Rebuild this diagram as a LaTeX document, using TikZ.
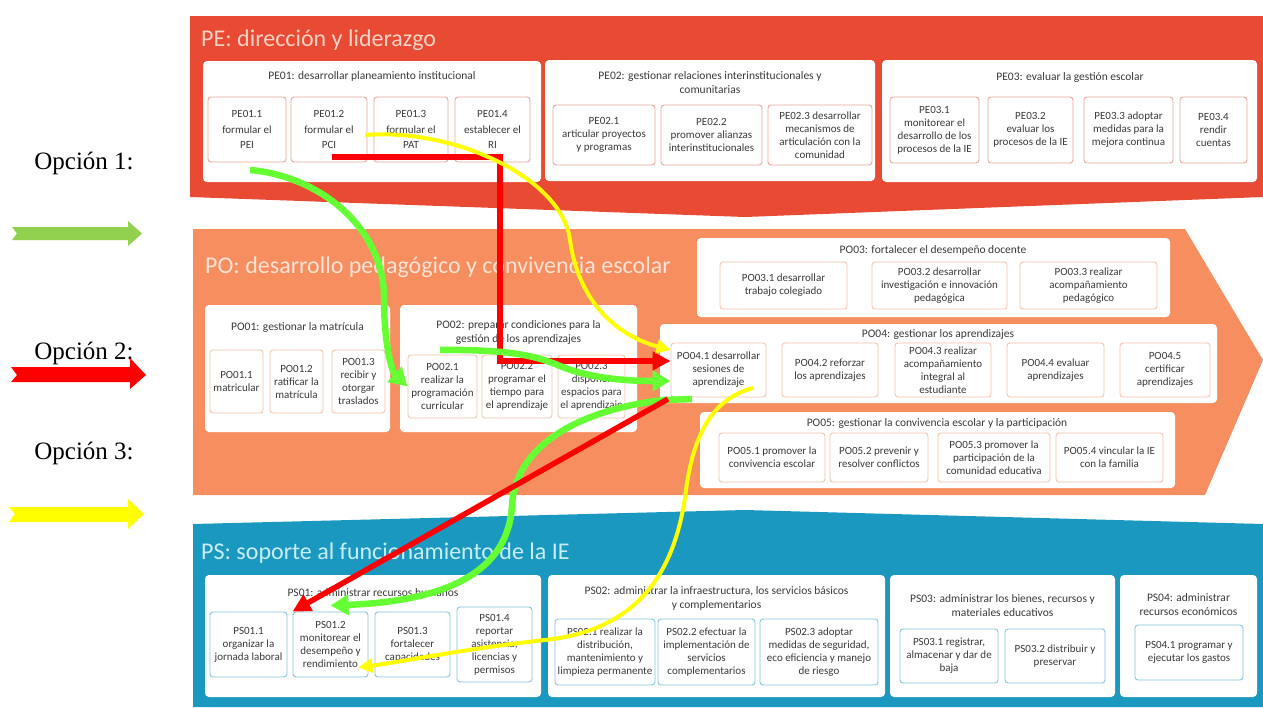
\documentclass[tikz,border=0pt]{standalone}
\usepackage{fontspec}
\setmainfont{Carlito}
\newfontfamily\legendfont{Liberation Serif}
\usetikzlibrary{arrows.meta,calc}
\definecolor{pered}{HTML}{E94A33}
\definecolor{poor}{HTML}{F68E5F}
\definecolor{psbl}{HTML}{1B98C0}
\definecolor{pehd}{HTML}{FBD3C6}
\definecolor{pohd}{HTML}{FDE3D5}
\definecolor{pshd}{HTML}{C8EDF8}
\definecolor{pesb}{HTML}{EBA79C}
\definecolor{posb}{HTML}{F5C2AA}
\definecolor{pssb}{HTML}{86C6DC}
\definecolor{txt}{HTML}{3A3A3A}
\definecolor{lgreen}{HTML}{92D050}
\definecolor{cgreen}{HTML}{66FF33}
\definecolor{cred}{HTML}{FF0000}
\definecolor{cyel}{HTML}{FFFF00}
\newcommand\bx[7]{\node[#1, minimum width={#5-#3}, minimum height={#6-#4}] (#2) at ({(#3+#5)/2},{(#4+#6)/2}) {#7};}
\begin{document}
\begin{tikzpicture}[x=1pt,y=-1pt,
  outer/.style={fill=white, rounded corners=4pt, inner sep=0pt},
  sub/.style={fill=white, rounded corners=3pt, line width=0.9pt, align=center, inner sep=1pt, text=txt, font=\fontsize{11}{13}\selectfont},
  subpe/.style={sub, draw=pesb},
  subpo/.style={sub, draw=posb},
  subps/.style={sub, draw=pssb, fill=white},
  tall/.style={font=\fontsize{11}{15.5}\selectfont},
  ttl/.style={align=center, text=txt, inner sep=0pt, font=\fontsize{11.5}{14}\selectfont},
  hdr/.style={anchor=west, inner sep=0pt, font=\fontsize{24}{26}\selectfont},
  lgd/.style={inner sep=0pt, font=\legendfont\fontsize{25}{28}\selectfont},
  gconn/.style={draw=cgreen, line width=6.5pt, -{Triangle[length=18pt,width=20pt]}},
  rconn/.style={draw=cred, line width=5.5pt, -{Triangle[length=18pt,width=18pt]}},
  yconn/.style={draw=cyel, line width=4pt, -{Triangle[length=14pt,width=14pt]}}
]
\useasboundingbox (0,0) rectangle (1263,707);
% bands
\fill[pered] (190,16) -- (1263,16) -- (1263,197) -- (745,217) -- (190,197) -- cycle;
\fill[poor] (193,229) -- (1185,229) -- (1263,360) -- (1205,495) -- (193,495) -- cycle;
\fill[psbl] (193,524) -- (745,510) -- (1263,524) -- (1263,707) -- (193,707) -- cycle;
\node[hdr, text=pehd] (peh) at (201,40) {PE: dirección y liderazgo};
\node[hdr, text=pohd] (poh) at (205,267) {PO: desarrollo pedagógico y convivencia escolar};
\node[hdr, text=pshd] (psh) at (201,553) {PS: soporte al funcionamiento de la IE};
% PE
\bx{outer}{pe01}{203}{61}{541}{182}{}
\bx{outer}{pe02}{545}{60}{875}{181}{}
\bx{outer}{pe03}{882}{60}{1257}{182}{}
\node[ttl] (pe01t) at (372,76) {PE01: desarrollar planeamiento institucional};
\bx{subpe,tall}{pe11}{208}{97}{286}{162}{PE01.1\\formular el\\PEI}
\bx{subpe,tall}{pe12}{291}{97}{367}{162}{PE01.2\\formular el\\PCI}
\bx{subpe,tall}{pe13}{374}{97}{448}{162}{PE01.3\\formular el\\PAT}
\bx{subpe,tall}{pe14}{455}{97}{530}{162}{PE01.4\\establecer el\\RI}
\node[ttl] (pe02t) at (710,83) {PE02: gestionar relaciones interinstitucionales y\\comunitarias};
\bx{subpe}{pe21}{553}{105}{655}{165}{PE02.1\\articular proyectos\\y programas}
\bx{subpe}{pe22}{661}{105}{762}{165}{PE02.2\\promover alianzas\\interinstitucionales}
\bx{subpe}{pe23}{768}{105}{872}{165}{PE02.3 desarrollar\\mecanismos de\\articulación con la\\comunidad}
\node[ttl] (pe03t) at (1070,77) {PE03: evaluar la gestión escolar};
\bx{subpe}{pe31}{890}{97}{979}{163}{PE03.1\\monitorear el\\desarrollo de los\\procesos de la IE}
\bx{subpe}{pe32}{988}{97}{1073}{163}{PE03.2\\evaluar los\\procesos de la IE}
\bx{subpe}{pe33}{1084}{97}{1173}{163}{PE03.3 adoptar\\medidas para la\\mejora continua}
\bx{subpe}{pe34}{1180}{97}{1247}{163}{PE03.4\\rendir\\cuentas}
% PO
\bx{outer}{po03}{697}{238}{1170}{317}{}
\bx{outer}{po01}{205}{305}{390}{432}{}
\bx{outer}{po02}{400}{305}{637}{432}{}
\bx{outer}{po04}{660}{324}{1217}{403}{}
\bx{outer}{po05}{700}{412}{1175}{488}{}
\node[ttl] (po03t) at (933,250) {PO03: fortalecer el desempeño docente};
\bx{subpo}{po31}{720}{262}{847}{309}{PO03.1 desarrollar\\trabajo colegiado}
\bx{subpo}{po32}{872}{262}{1007}{309}{PO03.2 desarrollar\\investigación e innovación\\pedagógica}
\bx{subpo}{po33}{1020}{262}{1157}{309}{PO03.3 realizar\\acompañamiento\\pedagógico}
\node[ttl] (po01t) at (297.5,327) {PO01: gestionar la matrícula};
\bx{subpo}{po11}{210}{350}{263}{413}{PO01.1\\matricular}
\bx{subpo}{po12}{270}{350}{323}{413}{PO01.2\\ratificar la\\matrícula}
\bx{subpo}{po13}{332}{350}{385}{413}{PO01.3\\recibir y\\otorgar\\traslados}
\node[ttl] (po02t) at (518.5,332) {PO02: preparar condiciones para la\\gestión de los aprendizajes};
\bx{subpo}{po21}{408}{355}{477}{418}{PO02.1\\realizar la\\programación\\curricular}
\bx{subpo}{po22}{482}{355}{552}{418}{PO02.2\\programar el\\tiempo para\\el aprendizaje}
\bx{subpo}{po23}{558}{355}{625}{418}{PO02.3\\disponer\\espacios para\\el aprendizaje}
\node[ttl] (po04t) at (938,334) {PO04: gestionar los aprendizajes};
\bx{subpo}{po41}{671}{343}{766}{397}{PO04.1 desarrollar\\sesiones de\\aprendizaje}
\bx{subpo}{po42}{782}{343}{878}{397}{PO04.2 reforzar\\los aprendizajes}
\bx{subpo}{po43}{895}{343}{991}{397}{PO04.3 realizar\\acompañamiento\\integral al\\estudiante}
\bx{subpo}{po44}{1007}{343}{1104}{397}{PO04.4 evaluar\\aprendizajes}
\bx{subpo}{po45}{1120}{343}{1210}{397}{PO04.5\\certificar\\aprendizajes}
\node[ttl] (po05t) at (937,423) {PO05: gestionar la convivencia escolar y la participación};
\bx{subpo}{po51}{719}{433}{825}{482}{PO05.1 promover la\\convivencia escolar}
\bx{subpo}{po52}{830}{433}{928}{482}{PO05.2 prevenir y\\resolver conflictos}
\bx{subpo}{po53}{938}{433}{1050}{482}{PO05.3 promover la\\participación de la\\comunidad educativa}
\bx{subpo}{po54}{1056}{433}{1163}{482}{PO05.4 vincular la IE\\con la familia}
% PS
\bx{outer}{ps01}{205}{575}{541}{697}{}
\bx{outer}{ps02}{548}{575}{885}{697}{}
\bx{outer}{ps03}{890}{575}{1115}{697}{}
\bx{outer}{ps04}{1120}{575}{1257}{697}{}
\node[ttl] (ps01t) at (373,593) {PS01: administrar recursos humanos};
\bx{subps}{ps11}{210}{612}{287}{677}{PS01.1\\organizar la\\jornada laboral}
\bx{subps}{ps12}{293}{612}{368}{677}{PS01.2\\monitorear el\\desempeño y\\rendimiento}
\bx{subps}{ps13}{375}{612}{450}{677}{PS01.3\\fortalecer\\capacidades}
\bx{subps}{ps14}{457}{607}{532}{682}{PS01.4\\reportar\\asistencia,\\licencias y\\permisos}
\node[ttl] (ps02t) at (716.5,598) {PS02: administrar la infraestructura, los servicios básicos\\y complementarios};
\bx{subps}{ps21}{555}{619}{655}{685}{PS02.1 realizar la\\distribución,\\mantenimiento y\\limpieza permanente}
\bx{subps}{ps22}{658}{619}{755}{685}{PS02.2 efectuar la\\implementación de\\servicios\\complementarios}
\bx{subps}{ps23}{760}{619}{878}{685}{PS02.3 adoptar\\medidas de seguridad,\\eco eficiencia y manejo\\de riesgo}
\node[ttl] (ps03t) at (1002.5,605.5) {PS03: administrar los bienes, recursos y\\materiales educativos};
\bx{subps}{ps31}{900}{629}{998}{683}{PS03.1 registrar,\\almacenar y dar de\\baja}
\bx{subps}{ps32}{1005}{629}{1105}{683}{PS03.2 distribuir y\\preservar}
\node[ttl] (ps04t) at (1188.5,605) {PS04: administrar\\recursos económicos};
\bx{subps}{ps41}{1135}{625}{1243}{680}{PS04.1 programar y\\ejecutar los gastos}
% connectors
\coordinate (g1s) at (250,170);
\coordinate (g2s) at (440,350);
\coordinate (g2e) at ([yshift=-11pt]po41.west);
\coordinate (g3s) at (692,399);
\coordinate (g3e) at ([yshift=6pt]ps12.north);
\coordinate (r1s) at (332,157);
\coordinate (r1e) at ([yshift=9pt]po41.west);
\coordinate (r2s) at (668,399);
\coordinate (y1s) at (365,135);
\coordinate (y1e) at ([yshift=20pt]po41.west);
\coordinate (y2s) at (753,388);
\coordinate (y2e) at ([shift={(-10pt,10pt)}]ps12.south east);
\draw[rconn] (r1s) -- ++(168,0) |- (r1e);
\draw[yconn] (y1s) .. controls (455,128) and (562,178) .. (570,240) .. controls (578,300) and (615,335) .. (y1e);
\draw[gconn] (g1s) .. controls (320,176) and (384,228) .. (384,298) .. controls (384,345) and (392,372) .. (po21.west);
\draw[gconn] (g2s) .. controls (525,349) and (545,360) .. (565,368) .. controls (595,379) and (630,381) .. (g2e);
\draw[gconn] (g3s) -- (664,400) .. controls (590,408) and (516,440) .. (512,505) .. controls (508,585) and (420,602) .. (g3e);
\draw[rconn] (r2s) -- (ps12.north west);
\draw[yconn] (y2s) .. controls (715,398) and (694,430) .. (686,490) .. controls (676,570) and (640,630) .. (545,640) .. controls (470,648) and (400,662) .. (y2e);
% legend
\node[lgd] (op1) at (84,163) {Opción 1:};
\node[lgd] (op2) at (84,353) {Opción 2:};
\node[lgd] (op3) at (84,453) {Opción 3:};
\fill[lgreen] (12,227) -- (128,227) -- (128,221) -- (142,233.5) -- (128,246) -- (128,240) -- (12,240) -- (17,233.5) -- cycle;
\fill[cred] (11,367) -- (130,367) -- (130,358) -- (146,375) -- (130,389) -- (130,382) -- (11,382) -- (17,375) -- cycle;
\fill[cyel] (9,507) -- (128,507) -- (128,499) -- (144,514) -- (128,529) -- (128,522) -- (9,522) -- (15,514) -- cycle;
\end{tikzpicture}
\end{document}
